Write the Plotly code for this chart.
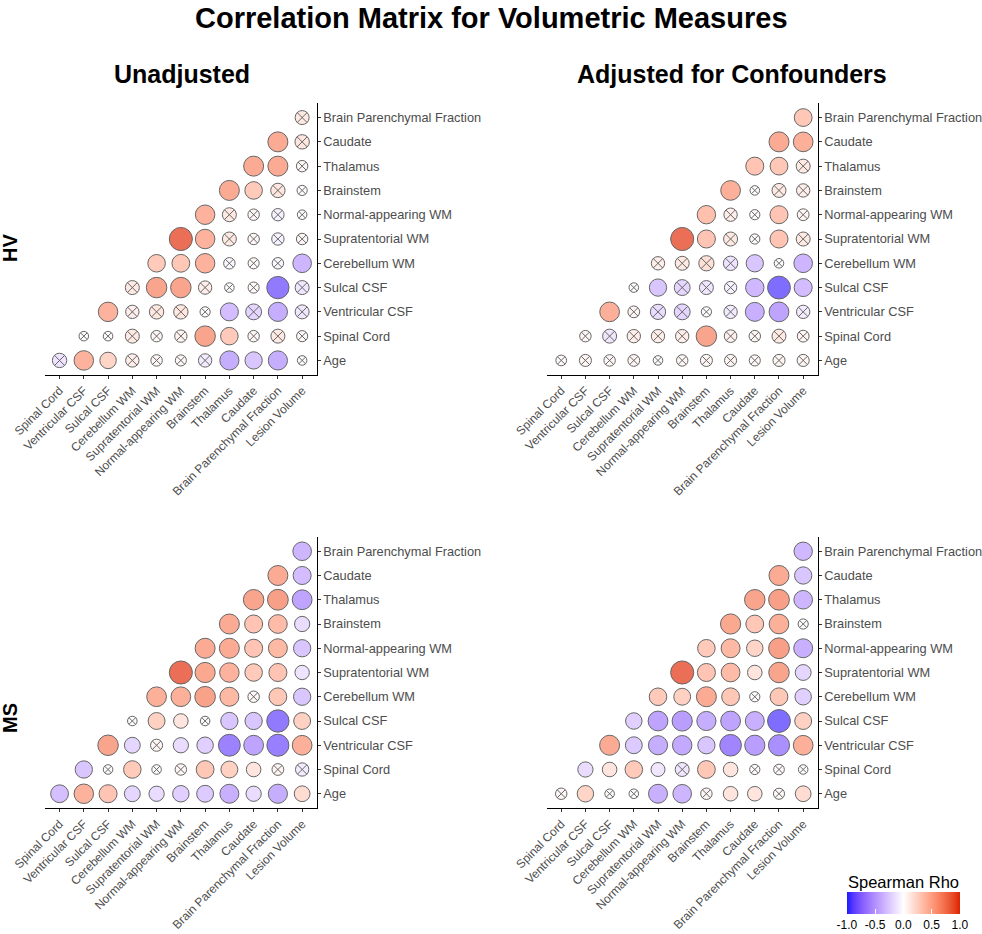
import math
import plotly.graph_objects as go
from plotly.subplots import make_subplots

cols = ["Spinal Cord", "Ventricular CSF", "Sulcal CSF", "Cerebellum WM", "Supratentorial WM",
        "Normal-appearing WM", "Brainstem", "Thalamus", "Caudate", "Brain Parenchymal Fraction",
        "Lesion Volume"]
rows = ["Age", "Spinal Cord", "Ventricular CSF", "Sulcal CSF", "Cerebellum WM", "Supratentorial WM",
        "Normal-appearing WM", "Brainstem", "Thalamus", "Caudate", "Brain Parenchymal Fraction"]

# row i (bottom = Age) holds columns i..10
hv_unadj = [
    [-0.17, 0.55, 0.30, 0.12, 0.05, 0.04, -0.12, -0.52, -0.36, -0.52, 0.01],
    [0.01, 0.01, 0.15, 0.05, 0.08, 0.65, 0.38, 0.05, 0.15, 0.04],
    [0.55, 0.12, 0.17, 0.17, 0.02, -0.42, -0.26, -0.52, -0.15],
    [0.15, 0.65, 0.65, 0.12, 0.01, 0.04, -0.85, -0.15],
    [0.38, 0.40, 0.55, -0.05, 0.04, -0.05, -0.47],
    [0.95, 0.55, 0.15, 0.05, -0.08, 0.05],
    [0.55, 0.15, 0.05, -0.08, 0.01],
    [0.60, 0.38, 0.17, 0.02],
    [0.60, 0.60, 0.05],
    [0.60, 0.17],
    [0.15],
]
hv_unadj_ns = [
    [1, 0, 0, 1, 1, 1, 1, 0, 0, 0, 1],
    [1, 1, 1, 1, 1, 0, 0, 1, 1, 1],
    [0, 1, 1, 1, 1, 0, 1, 0, 1],
    [1, 0, 0, 1, 1, 1, 0, 1],
    [0, 0, 0, 1, 1, 1, 0],
    [0, 0, 1, 1, 1, 1],
    [0, 1, 1, 1, 1],
    [0, 0, 1, 1],
    [0, 0, 1],
    [0, 1],
    [1],
]

hv_adj = [
    [0.03, 0.07, 0.05, 0.06, 0.01, 0.05, 0.07, 0.07, 0.04, 0.07, 0.07],
    [0.05, -0.15, 0.12, 0.12, 0.12, 0.65, 0.09, 0.05, 0.15, 0.06],
    [0.57, 0.06, -0.22, -0.26, 0.02, -0.12, -0.50, -0.58, -0.12],
    [0.01, -0.36, -0.26, -0.15, -0.08, -0.45, -0.92, -0.42],
    [0.12, 0.15, 0.22, -0.17, -0.36, 0.01, -0.47],
    [0.95, 0.42, 0.15, 0.02, 0.42, 0.15],
    [0.45, 0.12, 0.02, 0.42, 0.06],
    [0.57, 0.01, 0.15, 0.12],
    [0.42, 0.40, 0.15],
    [0.60, 0.57],
    [0.40],
]
hv_adj_ns = [
    [1, 1, 1, 1, 1, 1, 1, 1, 1, 1, 1],
    [1, 1, 1, 1, 1, 0, 1, 1, 1, 1],
    [0, 1, 1, 1, 1, 1, 0, 0, 1],
    [1, 0, 1, 1, 1, 0, 0, 0],
    [1, 1, 1, 1, 0, 1, 0],
    [0, 0, 1, 1, 0, 1],
    [0, 1, 1, 0, 1],
    [0, 1, 1, 1],
    [0, 0, 1],
    [0, 0],
    [0],
]

ms_unadj = [
    [-0.40, 0.55, 0.42, -0.26, -0.22, -0.30, -0.33, -0.50, -0.22, -0.52, 0.25],
    [-0.36, 0.01, 0.38, 0.01, 0.05, 0.40, 0.33, 0.18, 0.06, -0.12],
    [0.65, -0.26, 0.07, -0.22, -0.30, -0.80, -0.58, -0.82, 0.57],
    [0.01, 0.33, 0.18, 0.01, -0.36, -0.36, -0.85, 0.33],
    [0.57, 0.57, 0.66, 0.50, 0.05, 0.40, -0.36],
    [0.95, 0.62, 0.55, 0.38, 0.42, -0.17],
    [0.60, 0.60, 0.42, 0.50, -0.36],
    [0.60, 0.42, 0.48, -0.22],
    [0.65, 0.68, -0.58],
    [0.60, -0.42],
    [-0.47],
]
ms_unadj_ns = [
    [0, 0, 0, 0, 0, 0, 0, 0, 0, 0, 0],
    [0, 1, 0, 1, 1, 0, 0, 0, 1, 1],
    [0, 0, 1, 0, 0, 0, 0, 0, 0],
    [1, 0, 0, 1, 0, 0, 0, 0],
    [0, 0, 0, 0, 1, 0, 0],
    [0, 0, 0, 0, 0, 0],
    [0, 0, 0, 0, 0],
    [0, 0, 0, 0],
    [0, 0, 0],
    [0, 0],
    [0],
]

ms_adj = [
    [0.05, 0.30, 0.01, 0.01, -0.50, -0.47, 0.05, 0.18, 0.18, 0.04, 0.25],
    [-0.22, 0.18, 0.38, -0.15, -0.15, 0.40, 0.18, 0.02, 0.03, 0.01],
    [0.60, -0.33, -0.52, -0.55, -0.36, -0.78, -0.62, -0.72, 0.57],
    [-0.30, -0.58, -0.62, -0.52, -0.58, -0.50, -0.92, 0.33],
    [0.38, 0.33, 0.60, 0.40, 0.02, 0.40, -0.30],
    [0.95, 0.42, 0.48, 0.18, 0.65, -0.26],
    [0.38, 0.50, 0.30, 0.68, -0.50],
    [0.62, 0.40, 0.57, 0.02],
    [0.65, 0.68, -0.47],
    [0.60, -0.36],
    [-0.45],
]
ms_adj_ns = [
    [1, 0, 1, 1, 0, 0, 1, 0, 0, 1, 0],
    [0, 0, 0, 0, 1, 0, 0, 1, 1, 1],
    [0, 0, 0, 0, 0, 0, 0, 0, 0],
    [0, 0, 0, 0, 0, 0, 0, 0],
    [0, 0, 0, 0, 1, 0, 0],
    [0, 0, 0, 0, 0, 0],
    [0, 0, 0, 0, 0],
    [0, 0, 0, 1],
    [0, 0, 0],
    [0, 0],
    [0],
]


# blue - white - red gradient blended in Lab space, like ggplot's gradient2
def to_lab(h):
    rgb = [int(h[i:i + 2], 16) / 255 for i in (1, 3, 5)]
    lin = [c / 12.92 if c <= 0.04045 else ((c + 0.055) / 1.055) ** 2.4 for c in rgb]
    X = (0.4124 * lin[0] + 0.3576 * lin[1] + 0.1805 * lin[2]) / 0.95047
    Y = 0.2126 * lin[0] + 0.7152 * lin[1] + 0.0722 * lin[2]
    Z = (0.0193 * lin[0] + 0.1192 * lin[1] + 0.9505 * lin[2]) / 1.08883
    f = lambda t: t ** (1 / 3) if t > 0.008856 else 7.787 * t + 16 / 116
    return (116 * f(Y) - 16, 500 * (f(X) - f(Y)), 200 * (f(Y) - f(Z)))


def from_lab(L, a, b):
    fy = (L + 16) / 116
    fx = fy + a / 500
    fz = fy - b / 200
    g = lambda t: t ** 3 if t ** 3 > 0.008856 else (t - 16 / 116) / 7.787
    X, Y, Z = 0.95047 * g(fx), g(fy), 1.08883 * g(fz)
    lin = [3.2406 * X - 1.5372 * Y - 0.4986 * Z,
           -0.9689 * X + 1.8758 * Y + 0.0415 * Z,
           0.0557 * X - 0.2040 * Y + 1.0570 * Z]
    out = []
    for c in lin:
        c = min(max(c, 0), 1)
        c = 12.92 * c if c <= 0.0031308 else 1.055 * c ** (1 / 2.4) - 0.055
        out.append(round(min(max(c, 0), 1) * 255))
    return "rgb(%d,%d,%d)" % tuple(out)


low, mid, high = to_lab("#1A1AFF"), to_lab("#FFFFFF"), to_lab("#DD2200")
scale = []
for k in range(21):
    t = k / 20
    if t < 0.5:
        s = t / 0.5
        lab = [low[i] + (mid[i] - low[i]) * s for i in range(3)]
    else:
        s = (t - 0.5) / 0.5
        lab = [mid[i] + (high[i] - mid[i]) * s for i in range(3)]
    scale.append([t, from_lab(*lab)])

W, H = 982, 934


def px(x):
    return x / W


def py(y):
    return 1 - y / H


fig = make_subplots(rows=2, cols=2)

panels = [(hv_unadj, hv_unadj_ns, 1, 1), (hv_adj, hv_adj_ns, 1, 2),
          (ms_unadj, ms_unadj_ns, 2, 1), (ms_adj, ms_adj_ns, 2, 2)]
for vals, ns, r, c in panels:
    xs, ys, col, size, sym = [], [], [], [], []
    for i, rowvals in enumerate(vals):
        for k, v in enumerate(rowvals):
            xs.append(cols[i + k])
            ys.append(rows[i])
            col.append(v)
            size.append(8 + 15.5 * math.sqrt(abs(v)))
            sym.append("circle-x" if ns[i][k] else "circle")
    fig.add_trace(go.Scatter(x=xs, y=ys, mode="markers", showlegend=False, hoverinfo="skip",
                             marker=dict(color=col, coloraxis="coloraxis", size=size, symbol=sym,
                                         line=dict(color="#262626", width=1))),
                  row=r, col=c)

xdom = [[px(45), px(316.7)], [px(546.7), px(817.7)]]
ydom = [[py(375), py(103)], [py(808.3), py(536.7)]]
for n in range(4):
    r, c = n // 2, n % 2
    sfx = "" if n == 0 else str(n + 1)
    fig.layout["xaxis" + sfx].update(
        domain=xdom[c], type="category", categoryorder="array", categoryarray=cols,
        range=[-0.6, 10.6], tickangle=-45, showline=True, linecolor="black", linewidth=1,
        ticks="outside", ticklen=3, tickcolor="#333333", showgrid=False, zeroline=False,
        automargin=False, tickfont=dict(size=12, color="#4D4D4D"))
    fig.layout["yaxis" + sfx].update(
        domain=ydom[r], type="category", categoryorder="array", categoryarray=rows,
        range=[-0.6, 10.6], side="right", showline=True, linecolor="black", linewidth=1,
        ticks="outside", ticklen=3, tickcolor="#333333", showgrid=False, zeroline=False,
        automargin=False, tickfont=dict(size=12.8, color="#4D4D4D"))

titles = [("<b>Correlation Matrix for Volumetric Measures</b>", 491, 18, 29, 0),
          ("<b>Unadjusted</b>", 182, 74, 25, 0),
          ("<b>Adjusted for Confounders</b>", 732, 74, 25, 0),
          ("<b>HV</b>", 10, 248, 20, -90),
          ("<b>MS</b>", 10, 718, 20, -90),
          ("Spearman Rho", 903, 882, 16.5, 0)]
for text, x, y, size, ang in titles:
    fig.add_annotation(text=text, x=px(x), y=py(y), xref="paper", yref="paper",
                       xanchor="center", yanchor="middle", textangle=ang, showarrow=False,
                       font=dict(size=size, color="black"))

fig.update_layout(
    width=W, height=H, margin=dict(l=0, r=0, t=0, b=0, autoexpand=False),
    paper_bgcolor="white", plot_bgcolor="white",
    font=dict(family="Liberation Sans, Arial, sans-serif", color="black"),
    coloraxis=dict(
        cmin=-1, cmax=1, colorscale=scale,
        colorbar=dict(orientation="h", x=px(903.3), xanchor="center", y=py(891.7), yanchor="top",
                      len=113, lenmode="pixels", thickness=22, outlinewidth=0, xpad=0, ypad=0,
                      tickvals=[-1, -0.5, 0, 0.5, 1], ticktext=["-1.0", "-0.5", "0.0", "0.5", "1.0"],
                      ticks="inside", ticklen=5, tickcolor="white",
                      tickfont=dict(size=12, color="black"))),
)

# drop the page's default 8px body margin so the figure sits at the window corner
fig.write_html("out.html", config={"displayModeBar": False},
               post_script="document.body.style.margin='0';")
